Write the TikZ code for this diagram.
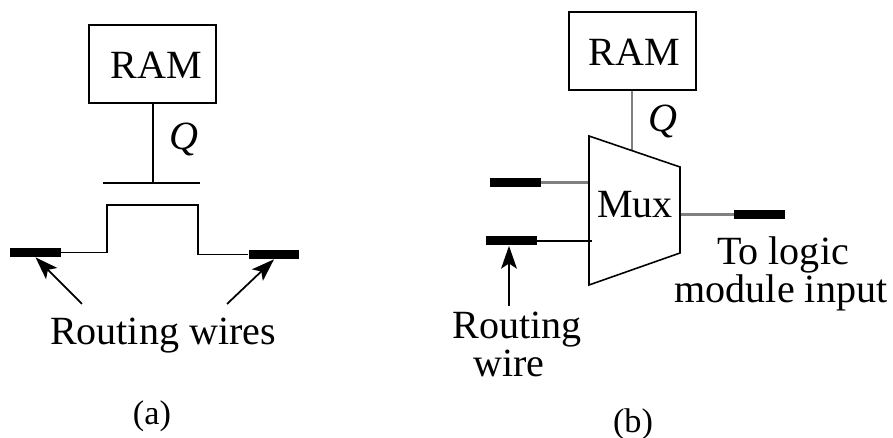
\documentclass[tikz,border=0pt]{standalone}
\usepackage{fontspec}
\setmainfont{Liberation Serif}
\usetikzlibrary{arrows.meta}
\tikzset{
  label/.style={anchor=base, inner sep=0pt, font=\fontsize{22.8}{22.8}\selectfont},
  caption/.style={anchor=base, inner sep=0pt, font=\fontsize{19.5}{19.5}\selectfont},
  ram/.style={draw, line width=.9pt, minimum width=127*.569pt, minimum height=78*.569pt, inner sep=0pt},
  bar/.style={fill=black, inner sep=0pt, minimum width=51*.569pt, minimum height=9*.569pt},
  wire/.style={line width=.9pt},
  greywire/.style={line width=1.3pt, color=black!50},
  pointer/.style={line width=1pt, -{Stealth[length=13pt,width=9pt,inset=3pt]}}
}
\begin{document}
\begin{tikzpicture}[x=.02cm,y=-.02cm]
\useasboundingbox (0,0) rectangle (893,438);
% left part
\node[ram] (ramA) at (152.5,64) {};
\node[label] (ramAtext) at (156,79) {RAM};
\node[label] (qA) at (184,150) {\textit{Q}};
\coordinate (gateL) at (103,183);
\coordinate (gateR) at (200,183);
\coordinate (gateM) at (153,183);
\draw[wire] (gateL) -- (gateR);
\draw[wire] (ramA.south -| gateM) -- (gateM);
\node[bar] (wireL) at (35.5,252.5) {};
\node[bar] (wireR) at (274,254.5) {};
\coordinate (chanL) at (107,205);
\coordinate (chanR) at (198,205);
\draw[wire] (wireL.east) -| (chanL) -- (chanR) |- (wireR.west);
\node[label] (routeA) at (163,345) {Routing wires};
\coordinate (tailL) at (82,304);
\coordinate (tailR) at (227,304);
\draw[pointer] (tailL) -- (wireL.south);
\draw[pointer] (tailR) -- (wireR.south);
\node[caption] (capA) at (152,425) {(a)};
% right part
\node[ram] (ramB) at (632.5,51) {};
\node[label] (ramBtext) at (634,66) {RAM};
\node[label] (qB) at (663,132) {\textit{Q}};
\coordinate (muxA) at (589,136);
\coordinate (muxB) at (680,167);
\coordinate (muxC) at (680,253);
\coordinate (muxD) at (589,285);
\coordinate (muxQ) at (632,150);
\draw[greywire] (ramB.south -| muxQ) -- (muxQ);
\node[bar] (wireT) at (515.5,182.5) {};
\node[bar] (wireU) at (511.5,241) {};
\node[bar] (wireO) at (759.5,214.5) {};
\draw[greywire] (wireT.east) -- (wireT.east -| muxA);
\draw[wire] (wireU.east) -- ++(55,0);
\draw[greywire] (wireO.west) -- (wireO.west -| muxB);
\draw[wire] (muxA) -- (muxB) -- (muxC) -- (muxD) -- cycle;
\node[label] (muxtext) at (635,218) {Mux};
\node[label] (logicA) at (783,265) {To logic};
\node[label] (logicB) at (781,303) {module input};
\coordinate (tailU) at (509,306);
\draw[pointer] (tailU) -- (wireU.south -| tailU);
\node[label] (routeB) at (517,339) {Routing};
\node[label] (routeC) at (509,377) {wire};
\node[caption] (capB) at (633,433) {(b)};
\end{tikzpicture}
\end{document}
